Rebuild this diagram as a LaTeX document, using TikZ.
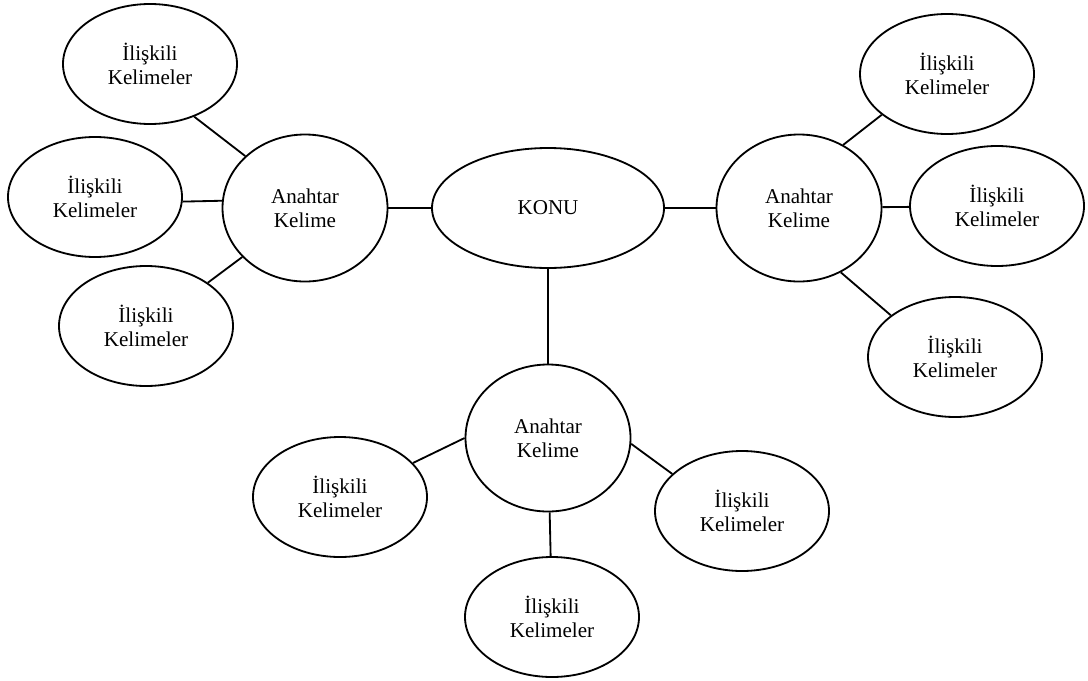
\documentclass[tikz,border=0pt]{standalone}
\usepackage{fontspec}
\setmainfont{Liberation Serif}
\usepackage{tikz}
\usetikzlibrary{shapes,shapes.geometric}

\begin{document}
\begin{tikzpicture}
			\tikzset{every node/.style={ellipse,draw,line width=1.3pt,align=center,inner sep=0pt,font=\fontsize{15}{17}\selectfont}}
			\tikzset{konu/.style={minimum width=5.8cm,minimum height=3cm}}
			\tikzset{anahtar/.style={minimum width=4.125cm,minimum height=3.675cm}}
			\tikzset{iliskili/.style={minimum width=4.35cm,minimum height=3cm}}
			\useasboundingbox (0,0) rectangle (27.2,-17);
			\node[konu] (konu) at (13.7,-5.2) {KONU};
			\node[anahtar] (akL) at (7.625,-5.2) {Anahtar\\Kelime};
			\node[anahtar] (akR) at (19.975,-5.2) {Anahtar\\Kelime};
			\node[anahtar] (akB) at (13.7,-10.95) {Anahtar\\Kelime};
			\node[iliskili] (ikL1) at (3.75,-1.6) {İlişkili\\Kelimeler};
			\node[iliskili] (ikL2) at (2.375,-4.925) {İlişkili\\Kelimeler};
			\node[iliskili] (ikL3) at (3.65,-8.15) {İlişkili\\Kelimeler};
			\node[iliskili] (ikR1) at (23.675,-1.85) {İlişkili\\Kelimeler};
			\node[iliskili] (ikR2) at (24.925,-5.15) {İlişkili\\Kelimeler};
			\node[iliskili] (ikR3) at (23.875,-8.925) {İlişkili\\Kelimeler};
			\node[iliskili] (ikB1) at (8.5,-12.425) {İlişkili\\Kelimeler};
			\node[iliskili] (ikB2) at (18.55,-12.775) {İlişkili\\Kelimeler};
			\node[iliskili] (ikB3) at (13.8,-15.425) {İlişkili\\Kelimeler};
			\foreach \a/\b in {konu/akL,konu/akR,konu/akB,akL.139/ikL1.-50,akL.175/ikL2.-3,akL.218/ikL3.35,akR.55/ikR1.212,akR/ikR2,akR.-57/ikR3.147,akB.180/ikB1.25,akB.-4/ikB2.152,akB/ikB3}
				\draw[line width=1.3pt] (\a) -- (\b);
		\end{tikzpicture}
\end{document}
